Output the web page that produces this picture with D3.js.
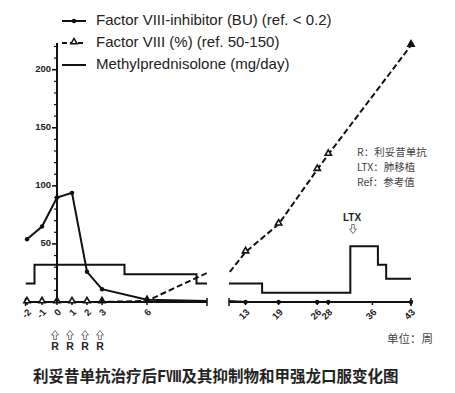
<!DOCTYPE html>
<html><head><meta charset="utf-8">
<script src="https://cdn.jsdelivr.net/npm/d3@7"></script>
<style>
html,body{margin:0;padding:0;background:#fff;}
svg{display:block;}
</style></head>
<body>
<script>
// ---- data ----
const inhWeeks = [-2,-1,0,1,2,3,6,13,19,26,28,43];
const inhibitor = [54,65,90,94,26,11,2,0,0,0,0,0];
const f8Weeks = [-2,-1,0,1,2,3,6,13,19,26,28,43];
const factor8 = [0,0,0,0,0,0,1,43,67,114,127,221];
const mpWeeks = [-2.1,-1.5,4.5,9.3,16,32,37,38.5,43];
const methyl = [16,32,24,16,8,48,32,20,20];
const leftTicks = [-2,-1,0,1,2,3,6];
const rightTicks = [13,19,26,28,36,43];
const yTicks = [50,100,150,200];
const rWeeks = [0,1,2,3];
const legendLabels = ["Factor VIII-inhibitor (BU) (ref. < 0.2)","Factor VIII (%) (ref. 50-150)","Methylprednisolone (mg/day)"];
const notes = ["R：利妥昔单抗","LTX：肺移植","Ref：参考值"];
const caption = "利妥昔单抗治疗后FⅧ及其抑制物和甲强龙口服变化图";

const W=455,H=393;
const svg=d3.select("body").append("svg").attr("width",W).attr("height",H);
const ink="#111";

const xL=d3.scaleLinear().domain([-2.1,10]).range([25.5,207]);
const xR=d3.scaleLinear().domain([10,43]).range([229,411]);
const y=d3.scaleLinear().domain([0,223]).range([302,43]);

const defs=svg.append("defs");
defs.append("clipPath").attr("id","cL").append("rect").attr("x",xL.range()[0]).attr("y",0).attr("width",xL.range()[1]-xL.range()[0]).attr("height",H);
defs.append("clipPath").attr("id","cR").append("rect").attr("x",xR.range()[0]).attr("y",0).attr("width",xR.range()[1]-xR.range()[0]).attr("height",H);

const inhData=inhWeeks.map((w,i)=>({w,v:inhibitor[i]}));
const f8Data=f8Weeks.map((w,i)=>({w,v:factor8[i]}));
const mpData=mpWeeks.map((w,i)=>({w,v:methyl[i]}));

const tri=d3.symbol().type(d3.symbolTriangle).size(17);

function drawPanel(x,clip){
  const g=svg.append("g");
  const [d0,d1]=x.domain();
  g.append("line").attr("x1",x.range()[0]).attr("x2",x.range()[1]).attr("y1",y(0)).attr("y2",y(0)).attr("stroke",ink).attr("stroke-width",2);
  g.append("line").attr("x1",x.range()[0]).attr("x2",x.range()[0]).attr("y1",y(0)-4).attr("y2",y(0)+4).attr("stroke",ink).attr("stroke-width",1.5);
  g.append("line").attr("x1",x.range()[1]).attr("x2",x.range()[1]).attr("y1",y(0)-4).attr("y2",y(0)+4).attr("stroke",ink).attr("stroke-width",1.5);
  const lg=g.append("g").attr("clip-path",`url(#${clip})`);
  const step=d3.line().x(d=>x(d.w)).y(d=>y(d.v)).curve(d3.curveStepAfter);
  lg.append("path").datum(mpData).attr("d",step).attr("fill","none").attr("stroke",ink).attr("stroke-width",2);
  const line=d3.line().x(d=>x(d.w)).y(d=>y(d.v));
  lg.append("path").datum(f8Data).attr("d",line).attr("fill","none").attr("stroke",ink).attr("stroke-width",2).attr("stroke-dasharray","6,3");
  lg.append("path").datum(inhData).attr("d",line).attr("fill","none").attr("stroke",ink).attr("stroke-width",2);
  const inRange=d=>d.w>=d0&&d.w<=d1;
  g.selectAll("path.tri").data(f8Data.filter(inRange)).enter().append("path")
    .attr("transform",d=>`translate(${x(d.w)},${y(d.v)-1})`).attr("d",tri)
    .attr("fill",d=>(d.w===6||d.w===43||d.w===3)?ink:"#fff").attr("stroke",ink).attr("stroke-width",1.6);
  g.selectAll("circle.inh").data(inhData.filter(inRange)).enter().append("circle")
    .attr("cx",d=>x(d.w)).attr("cy",d=>y(d.v)).attr("r",2.2).attr("fill",ink);
  return g;
}
drawPanel(xL,"cL");
drawPanel(xR,"cR");

function xLabels(x,ticks){
  const g=svg.append("g");
  ticks.forEach(t=>{
    g.append("line").attr("x1",x(t)).attr("x2",x(t)).attr("y1",y(0)).attr("y2",y(0)+3).attr("stroke",ink).attr("stroke-width",1.5);
    g.append("text").attr("transform",`translate(${x(t)+3},${y(0)+9}) rotate(-45)`)
      .attr("text-anchor","end").attr("dominant-baseline","middle")
      .attr("font-family","Liberation Sans, Arial, sans-serif").attr("font-weight","bold").attr("font-size",9.5).attr("fill","#222").text(t);
  });
}
xLabels(xL,leftTicks);
xLabels(xR,rightTicks);

const x0=xL(0);
const ya=svg.append("g");
ya.append("line").attr("x1",x0).attr("x2",x0).attr("y1",y.range()[1]).attr("y2",y(0)).attr("stroke",ink).attr("stroke-width",2);
d3.range(10,223,10).forEach(v=>{
  const major=v%50===0;
  ya.append("line").attr("x1",x0-(major?5:3)).attr("x2",x0).attr("y1",y(v)).attr("y2",y(v)).attr("stroke",ink).attr("stroke-width",major?1.6:1.2);
});
yTicks.forEach(v=>{
  ya.append("text").attr("x",x0-6).attr("y",y(v)).attr("text-anchor","end").attr("dominant-baseline","middle")
    .attr("font-family","Liberation Sans, Arial, sans-serif").attr("font-weight","bold").attr("font-size",9.5).attr("fill","#222").text(v);
});

const lgd=svg.append("g");
const rows=[21,43,65];
legendLabels.forEach((t,i)=>{
  const ly=rows[i];
  const l=lgd.append("line").attr("x1",62).attr("x2",86).attr("y1",ly).attr("y2",ly).attr("stroke",ink).attr("stroke-width",2);
  if(i===1) l.attr("stroke-dasharray","5,3");
  if(i===0) lgd.append("circle").attr("cx",74).attr("cy",ly).attr("r",2.2).attr("fill",ink);
  if(i===1) lgd.append("path").attr("transform",`translate(74,${ly-1})`).attr("d",tri).attr("fill","#fff").attr("stroke",ink).attr("stroke-width",1.5);
  lgd.append("text").attr("x",96).attr("y",ly).attr("dominant-baseline","middle")
    .attr("font-family","Liberation Sans, Arial, sans-serif").attr("font-size",15).attr("fill","#222").text(t);
});

notes.forEach((t,i)=>{
  svg.append("text").attr("x",357).attr("y",153+i*15).attr("dominant-baseline","middle")
    .attr("font-family","Noto Sans CJK SC, sans-serif").attr("font-size",10.5).attr("fill","#444").text(t);
});

// hollow block arrow; dir: -1 up, 1 down
function arrow(cx,cy,dir){
  const h=4.5*dir, s=3.5;
  const pts=[[0,h],[s,0],[1.3,0],[1.3,-h],[-1.3,-h],[-1.3,0],[-s,0]];
  svg.append("path").attr("d","M"+pts.map(p=>[cx+p[0],cy+p[1]].join(",")).join("L")+"Z")
    .attr("fill","none").attr("stroke","#666").attr("stroke-width",0.9);
}

svg.append("text").attr("x",352).attr("y",218).attr("text-anchor","middle").attr("dominant-baseline","middle")
  .attr("font-family","Liberation Sans, Arial, sans-serif").attr("font-weight","bold").attr("font-size",10).attr("fill","#222").text("LTX");
arrow(353,229,1);

rWeeks.forEach(w=>{
  arrow(xL(w)-2,335,-1);
  svg.append("text").attr("x",xL(w)-2).attr("y",347).attr("text-anchor","middle").attr("dominant-baseline","middle")
    .attr("font-family","Liberation Sans, Arial, sans-serif").attr("font-weight","bold").attr("font-size",10.5).attr("fill","#222").text("R");
});

svg.append("text").attr("x",387).attr("y",340).attr("dominant-baseline","middle")
  .attr("font-family","Noto Sans CJK SC, sans-serif").attr("font-size",11.5).attr("fill","#444").text("单位：周");

svg.append("text").attr("x",33).attr("y",378).attr("dominant-baseline","middle")
  .attr("font-family","Noto Sans CJK SC, sans-serif").attr("font-weight","600").attr("font-size",15.5).attr("fill","#222").text(caption);
</script>
</body></html>
